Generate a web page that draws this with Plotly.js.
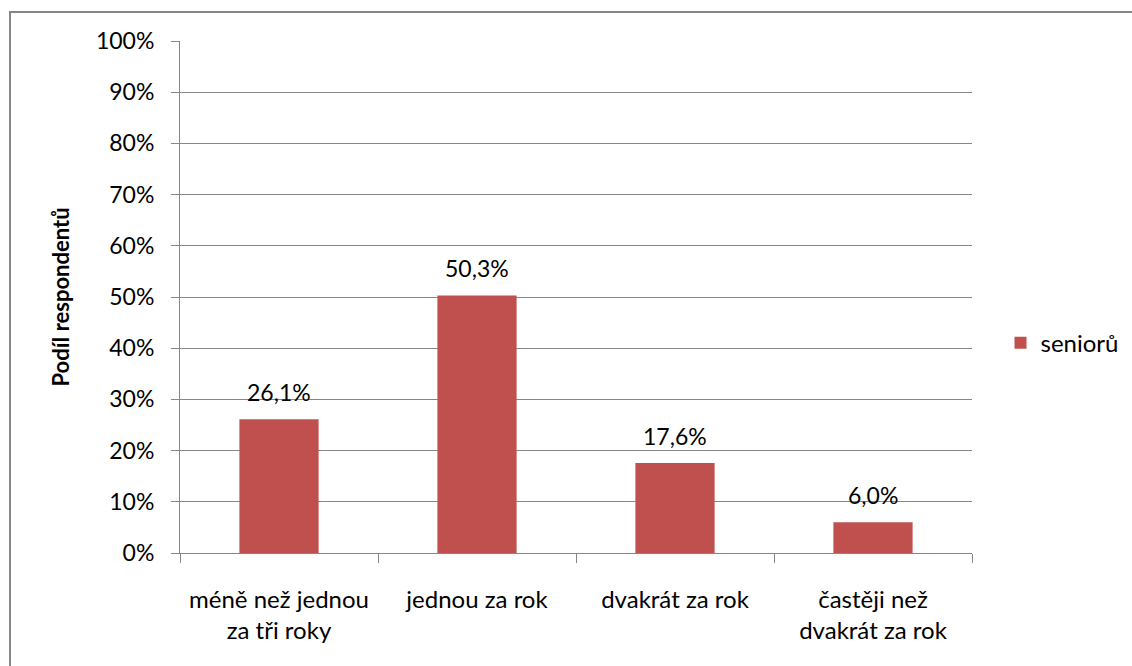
<!DOCTYPE html>
<html>
<head>
<meta charset="utf-8">
<script src="https://cdn.plot.ly/plotly-3.0.1.min.js"></script>
<style>
html,body{margin:0;padding:0;background:#fff;}
#wrap{position:relative;width:1132px;height:666px;}
#chart{position:absolute;left:0;top:0;width:1132px;height:666px;}
#frame{position:absolute;left:9px;top:11px;width:1200px;height:700px;border-left:2px solid #868686;border-top:2px solid #868686;pointer-events:none;}
</style>
</head>
<body>
<div id="wrap"><div id="chart"></div><div id="frame"></div></div>
<script>
const categories = ["méně než jednou<br>za tři roky", "jednou za rok", "dvakrát za rok", "častěji než<br>dvakrát za rok"];
const values = [26.1, 50.3, 17.6, 6.0];
const labels = ["26,1%", "50,3%", "17,6%", "6,0%"];
const seriesName = "seniorů";
const yTickVals = [0,10,20,30,40,50,60,70,80,90,100];
const yTickText = ["0%","10%","20%","30%","40%","50%","60%","70%","80%","90%","100%"];

const FONT = "Lato, 'Open Sans', sans-serif";
const trace = {
  type: "bar",
  x: categories,
  y: values,
  name: seriesName,
  marker: {color: "#C0504D", line: {width: 0}},
  hoverinfo: "none"
};
const annotations = categories.map((c, i) => ({
  x: c, y: values[i], xref: "x", yref: "y",
  text: labels[i], showarrow: false, yanchor: "bottom", yshift: 11,
  font: {family: FONT, size: 23, color: "#000"}
}));
const layout = {
  width: 1132, height: 666,
  margin: {l: 180, r: 160, t: 41, b: 113, autoexpand: false},
  paper_bgcolor: "#fff", plot_bgcolor: "#fff",
  font: {family: FONT, size: 22, color: "#000"},
  bargap: 0.6,
  showlegend: true,
  legend: {x: 1.036, xanchor: "left", y: 0.41, yanchor: "middle", font: {family: FONT, size: 24, color: "#000"}, itemwidth: 30},
  xaxis: {
    type: "category",
    showline: true, linecolor: "#868686", linewidth: 1,
    ticks: "outside", tickson: "boundaries", ticklen: 9, tickcolor: "#868686",
    showgrid: false, zeroline: false,
    ticklabelstandoff: 25,
    tickfont: {family: FONT, size: 24, color: "#000"}
  },
  yaxis: {
    range: [0, 100],
    tickvals: yTickVals, ticktext: yTickText,
    showline: true, linecolor: "#868686", linewidth: 1,
    ticks: "outside", ticklen: 8, tickcolor: "#868686",
    showgrid: true, gridcolor: "#868686", gridwidth: 1,
    zeroline: false,
    ticklabelstandoff: 12,
    tickfont: {family: FONT, size: 23, color: "#000"},
    title: {text: "Podíl respondentů", font: {family: FONT, size: 22, color: "#000", weight: "bold"}, standoff: 20}
  },
  annotations: annotations
};
Plotly.newPlot("chart", [trace], layout, {staticPlot: true, displayModeBar: false});
</script>
</body>
</html>
